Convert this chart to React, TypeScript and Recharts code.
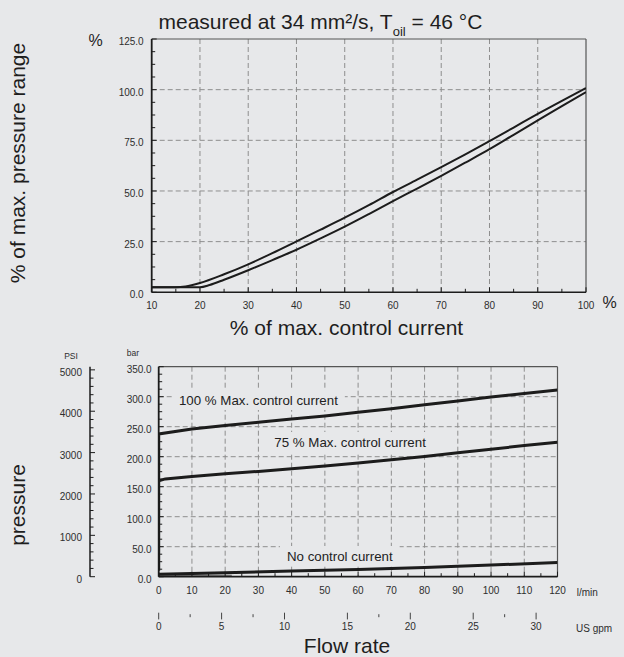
import React from 'react'
import {
  LineChart,
  Line,
  XAxis,
  YAxis,
  CartesianGrid,
  ReferenceLine,
  ReferenceDot
} from 'recharts'

// upper chart: % of max pressure vs % of max control current (two branches of the hysteresis)
const currentRising = [10, 15, 17, 20, 25, 30, 35, 40, 45, 50, 55, 60, 65, 70, 75, 80, 85, 90, 95, 100]
const pressureRising = [2.5, 2.5, 2.9, 4.6, 8.9, 13.8, 19.3, 25.1, 30.9, 36.8, 43.0, 49.5, 55.6, 61.8, 68.1, 74.6, 81.3, 88.0, 94.5, 100.8]
const currentFalling = [10, 15, 20, 22, 25, 30, 35, 40, 45, 50, 55, 60, 65, 70, 75, 80, 85, 90, 95, 100]
const pressureFalling = [2.5, 2.5, 2.5, 3.6, 6.2, 10.9, 15.9, 21.0, 26.6, 32.4, 38.6, 45.0, 51.2, 57.5, 64.0, 70.6, 77.7, 84.8, 91.9, 98.8]

const pctTicks = [0, 25, 50, 75, 100, 125]
const currentTicks = [10, 20, 30, 40, 50, 60, 70, 80, 90, 100]

// lower chart: pressure (bar) vs flow (l/min)
const flowFull = [0, 0, 10, 20, 30, 40, 50, 60, 70, 80, 90, 100, 110, 120]
const barFull = [10, 238, 246, 252, 257.5, 263, 268, 274, 280, 286.5, 293, 299.5, 305.5, 311]
const flow75 = [0, 2, 10, 20, 30, 40, 50, 60, 70, 80, 90, 100, 110, 120]
const bar75 = [160, 163, 167, 171.5, 175.5, 180, 184.5, 189.5, 195, 200.5, 206.5, 212.5, 218.5, 224]
const flowNone = [0, 20, 40, 60, 80, 100, 120]
const barNone = [4, 6.5, 9.5, 12, 15.5, 19.5, 23.5]
const flowBase = [0, 22]
const barBase = [1.2, 1.2]

const barTicks = [0, 50, 100, 150, 200, 250, 300, 350]
const flowTicks = [0, 10, 20, 30, 40, 50, 60, 70, 80, 90, 100, 110, 120]
const psiTicks = [0, 1000, 2000, 3000, 4000, 5000]
const gpmTicks = [0, 5, 10, 15, 20, 25, 30]
const gpmMinor = [2.5, 7.5, 17.5, 27.5]

const curveNames = ['100 % Max. control current', '75 % Max. control current', 'No control current']

const BAR_TO_PSI = 14.5038
const GPM_TO_LMIN = 3.78541

const BG = '#e7e8ea'
const FONT = '"Liberation Sans", Arial, Helvetica, sans-serif'
const INK = '#1c1c1c'
const TICK_TEXT = '#2e2e2e'
const GRID = '#8e8e8e'

const pairs = (xs: number[], ys: number[]) => xs.map((x, i) => ({ x, y: ys[i] }))

// majors plus evenly spaced minor ticks between them
const subdivide = (majors: number[], parts: number) => {
  const out: number[] = []
  majors.forEach((m, i) => {
    out.push(m)
    const next = majors[i + 1]
    if (next === undefined) return
    for (let k = 1; k < parts; k++) out.push(m + ((next - m) * k) / parts)
  })
  return out
}

const LeftTick = (props: any) => {
  const { x, y, payload, majors, fmt, gap } = props
  const v = payload.value
  const major = majors.includes(v)
  return (
    <g>
      <line x1={x} x2={x + (major ? 5 : 3.5)} y1={y} y2={y} stroke={INK} strokeWidth={1} />
      {major && (
        <text x={x - gap} y={y + 2.5} dy="0.355em" textAnchor="end" fontSize={10} fill={TICK_TEXT} fontFamily={FONT}>
          {fmt(v)}
        </text>
      )}
    </g>
  )
}

const BottomTick = (props: any) => {
  const { x, y, payload, majors, drop } = props
  const v = payload.value
  const major = majors.includes(v)
  return (
    <g>
      <line x1={x} x2={x} y1={y} y2={y - (major ? 5 : 3.5)} stroke={INK} strokeWidth={1} />
      {major && (
        <text x={x} y={y + drop} dy="0.355em" textAnchor="middle" fontSize={10} fill={TICK_TEXT} fontFamily={FONT}>
          {v}
        </text>
      )}
    </g>
  )
}

const GpmTick = (props: any) => {
  const { x, y, payload } = props
  const v = payload.value
  const major = gpmTicks.includes(v)
  return (
    <g>
      <line x1={x} x2={x} y1={y + (major ? 0 : 1.5)} y2={y + (major ? 6.7 : 4.5)} stroke="#444" strokeWidth={1} />
      {major && (
        <text x={x} y={y + 13.3} dy="0.355em" textAnchor="middle" fontSize={10} fill={TICK_TEXT} fontFamily={FONT}>
          {v}
        </text>
      )}
    </g>
  )
}

const boxedLabel = (text: string) => (props: any) => {
  const { cx, cy } = props
  const w = text.length * 13.3 * 0.5
  return (
    <g>
      <rect x={cx - w / 2} y={cy - 10} width={w} height={20} fill={BG} />
      <text x={cx} y={cy} dy="0.355em" textAnchor="middle" fontSize={13.3} fill="#222" fontFamily={FONT}>
        {text}
      </text>
    </g>
  )
}

export default function App() {
  const rising = pairs(currentRising, pressureRising)
  const falling = pairs(currentFalling, pressureFalling)
  const full = pairs(flowFull, barFull)
  const threeQuarter = pairs(flow75, bar75)
  const none = pairs(flowNone, barNone)
  const base = pairs(flowBase, barBase)
  const gpmSpan = pairs([0, 120 / GPM_TO_LMIN], [0, 0])

  return (
    <div style={{ position: 'relative', width: 624, height: 657, background: BG, overflow: 'hidden', fontFamily: FONT }}>
      <style>{`body{margin:0;background:${BG}}`}</style>

      <div style={{ position: 'absolute', left: 0, top: 0 }}>
        <LineChart width={624} height={330} margin={{ top: 39, right: 38, left: 91.7, bottom: 13.7 }}>
          <CartesianGrid
            horizontalValues={[25, 50, 75, 100]}
            verticalValues={[20, 30, 40, 50, 60, 70, 80, 90]}
            stroke={GRID}
            strokeDasharray="5 3"
          />
          <XAxis
            type="number"
            dataKey="x"
            domain={[10, 100]}
            allowDataOverflow
            ticks={subdivide(currentTicks, 2)}
            interval={0}
            height={24}
            tickSize={0}
            tickMargin={0}
            tickLine={false}
            axisLine={{ stroke: INK, strokeWidth: 1.5 }}
            tick={(p: any) => <BottomTick {...p} majors={currentTicks} drop={12.7} />}
          />
          <YAxis
            type="number"
            domain={[0, 125]}
            allowDataOverflow
            ticks={subdivide(pctTicks, 4)}
            interval={0}
            width={60}
            tickSize={0}
            tickMargin={0}
            tickLine={false}
            axisLine={{ stroke: INK, strokeWidth: 1.8 }}
            tick={(p: any) => <LeftTick {...p} majors={pctTicks} fmt={(v: number) => v.toFixed(1)} gap={8} />}
          />
          <ReferenceLine y={125} stroke="#555" strokeWidth={1.2} />
          <ReferenceLine x={100} stroke="#555" strokeWidth={1.2} />
          <Line data={rising} dataKey="y" type="monotone" stroke={INK} strokeWidth={2} dot={false} isAnimationActive={false} />
          <Line data={falling} dataKey="y" type="monotone" stroke={INK} strokeWidth={2} dot={false} isAnimationActive={false} />
        </LineChart>
      </div>

      <div style={{ position: 'absolute', left: 0, top: 340 }}>
        <LineChart width={624} height={317} margin={{ top: 26.7, right: 66.5, left: 60, bottom: 24.3 }}>
          <CartesianGrid
            xAxisId="flow"
            yAxisId="bar"
            horizontalValues={[50, 100, 150, 200, 250, 300]}
            verticalValues={[10, 20, 30, 40, 50, 60, 70, 80, 90, 100, 110]}
            stroke={GRID}
            strokeDasharray="5 3"
          />
          <XAxis
            xAxisId="flow"
            type="number"
            dataKey="x"
            domain={[0, 120]}
            allowDataOverflow
            ticks={subdivide(flowTicks, 2)}
            interval={0}
            height={36}
            tickSize={0}
            tickMargin={0}
            tickLine={false}
            axisLine={{ stroke: INK, strokeWidth: 1.8 }}
            tick={(p: any) => <BottomTick {...p} majors={flowTicks} drop={13.3} />}
          />
          <XAxis
            xAxisId="gpm"
            type="number"
            dataKey="x"
            domain={[0, 120 / GPM_TO_LMIN]}
            allowDataOverflow
            ticks={[...gpmTicks, ...gpmMinor].sort((a, b) => a - b)}
            interval={0}
            height={20}
            tickSize={0}
            tickMargin={0}
            tickLine={false}
            axisLine={false}
            tick={(p: any) => <GpmTick {...p} />}
          />
          <YAxis
            yAxisId="bar"
            type="number"
            domain={[0, 350]}
            allowDataOverflow
            ticks={subdivide(barTicks, 4)}
            interval={0}
            width={68.7}
            tickSize={0}
            tickMargin={0}
            tickLine={false}
            axisLine={{ stroke: INK, strokeWidth: 1.8 }}
            tick={(p: any) => <LeftTick {...p} majors={barTicks} fmt={(v: number) => v.toFixed(1)} gap={7} />}
          />
          <YAxis
            yAxisId="psi"
            type="number"
            domain={[0, 350 * BAR_TO_PSI]}
            allowDataOverflow
            ticks={subdivide(psiTicks, 5)}
            interval={0}
            width={30}
            tickSize={0}
            tickMargin={0}
            tickLine={false}
            axisLine={{ stroke: INK, strokeWidth: 1.5 }}
            tick={(p: any) => <LeftTick {...p} majors={psiTicks} fmt={(v: number) => String(v)} gap={8} />}
          />
          <ReferenceLine xAxisId="flow" yAxisId="bar" y={350} stroke="#555" strokeWidth={1.2} />
          <ReferenceLine xAxisId="flow" yAxisId="bar" x={120} stroke="#555" strokeWidth={1.2} />
          <Line xAxisId="gpm" yAxisId="bar" data={gpmSpan} dataKey="y" stroke="none" dot={false} isAnimationActive={false} />
          <Line xAxisId="flow" yAxisId="bar" data={base} dataKey="y" stroke="#7a7a7a" strokeWidth={2.5} dot={false} isAnimationActive={false} />
          <Line xAxisId="flow" yAxisId="bar" data={full} dataKey="y" stroke={INK} strokeWidth={3} dot={false} isAnimationActive={false} />
          <Line xAxisId="flow" yAxisId="bar" data={threeQuarter} dataKey="y" stroke={INK} strokeWidth={3} dot={false} isAnimationActive={false} />
          <Line xAxisId="flow" yAxisId="bar" data={none} dataKey="y" stroke={INK} strokeWidth={3} dot={false} isAnimationActive={false} />
          <ReferenceDot xAxisId="flow" yAxisId="bar" x={30} y={294.5} r={1} shape={boxedLabel(curveNames[0])} />
          <ReferenceDot xAxisId="flow" yAxisId="bar" x={57.6} y={224.5} r={1} shape={boxedLabel(curveNames[1])} />
          <ReferenceDot xAxisId="flow" yAxisId="bar" x={54.5} y={34.5} r={1} shape={boxedLabel(curveNames[2])} />
        </LineChart>
      </div>

      <svg width={624} height={657} style={{ position: 'absolute', left: 0, top: 0, pointerEvents: 'none' }}>
        <g fontFamily={FONT} fill="#1e1e1e">
          <text x={158.5} y={29.3} fontSize={21}>
            measured at 34 mm²/s, T<tspan dy={6.5} fontSize={13}>oil</tspan>
            <tspan dy={-6.5}> = 46 °C</tspan>
          </text>
          <text x={95.5} y={45.5} fontSize={16} textAnchor="middle">%</text>
          <text x={609.5} y={308} fontSize={16} textAnchor="middle">%</text>
          <text x={346.5} y={335} fontSize={21} textAnchor="middle">% of max. control current</text>
          <text x={25} y={163} fontSize={21} textAnchor="middle" transform="rotate(-90 25 163)">
            % of max. pressure range
          </text>
          <text x={25} y={505} fontSize={21} textAnchor="middle" transform="rotate(-90 25 505)">
            pressure
          </text>
          <text x={347} y={653} fontSize={21} textAnchor="middle">Flow rate</text>
          <text x={71} y={359} fontSize={8.5} textAnchor="middle" fill={TICK_TEXT}>PSI</text>
          <text x={133} y={355.5} fontSize={8.5} textAnchor="middle" fill={TICK_TEXT}>bar</text>
          <text x={576.7} y={596} fontSize={10} fill={TICK_TEXT}>l/min</text>
          <text x={576} y={632} fontSize={10} fill={TICK_TEXT}>US gpm</text>
        </g>
      </svg>
    </div>
  )
}
